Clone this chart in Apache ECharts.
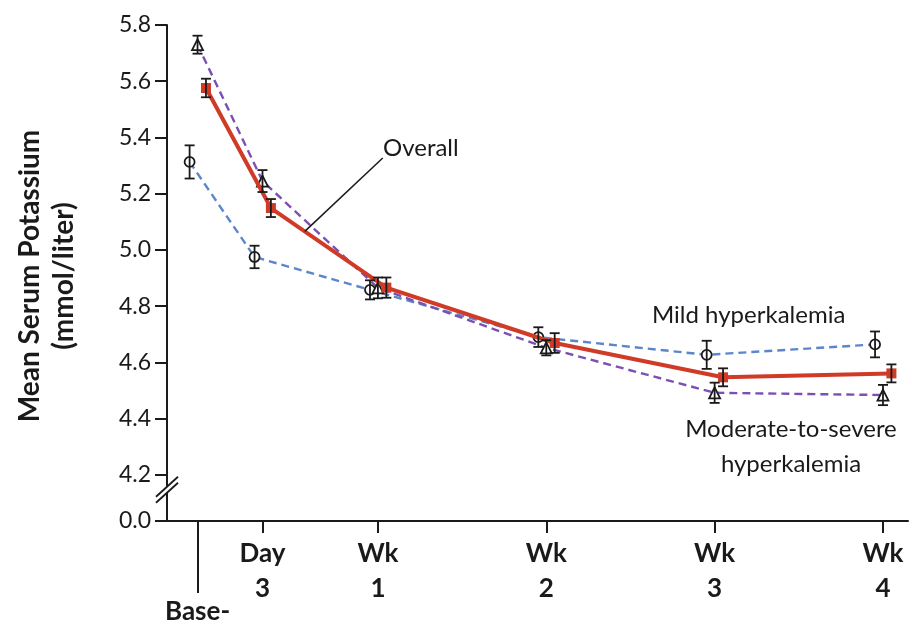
<!DOCTYPE html>
<html><head><meta charset="utf-8">
<script src="https://cdn.jsdelivr.net/npm/echarts@6/dist/echarts.min.js"></script>
<style>html,body{margin:0;padding:0;background:#fff}#c{width:912px;height:626px}</style>
</head><body><div id="c"></div>
<script>
// ---- data ----
const timeLabels = ['Base-', 'Day\n3', 'Wk\n1', 'Wk\n2', 'Wk\n3', 'Wk\n4'];
const timePos = [-0.5, 2.2, 7, 14, 21, 28];          // axis position of each time point (days, as drawn)
const yTickValues = [4.2, 4.4, 4.6, 4.8, 5.0, 5.2, 5.4, 5.6, 5.8];
const yBreakBottom = 4.036;                            // bottom of broken axis, labelled 0.0
const yBreakLabel = '0.0';

const mild = [5.313, 4.975, 4.858, 4.690, 4.627, 4.664];
const mildErr = [0.059, 0.040, 0.034, 0.035, 0.050, 0.046];
const moderate = [5.730, 5.245, 4.865, 4.652, 4.492, 4.484];
const moderateErr = [0.032, 0.039, 0.037, 0.027, 0.036, 0.036];
const overall = [5.576, 5.149, 4.866, 4.669, 4.547, 4.561];
const overallErr = [0.033, 0.032, 0.036, 0.035, 0.032, 0.032];

const jitter = { mild: -0.33, moderate: 0.0, overall: 0.35 };

// ---- build ----
const FONT = 'Lato';
const INK = '#1a1a1a';
function pts(vals, off) { return vals.map((v, i) => [timePos[i] + off, v]); }
function errPts(vals, errs, off) { return vals.map((v, i) => [timePos[i] + off, v, errs[i]]); }

function errRender(params, api) {
  const x = api.value(0), y = api.value(1), e = api.value(2);
  const top = api.coord([x, y + e]);
  const bot = api.coord([x, y - e]);
  const hw = 5;
  const st = { stroke: INK, lineWidth: 1.8 };
  return {
    type: 'group', children: [
      { type: 'line', shape: { x1: top[0], y1: top[1], x2: bot[0], y2: bot[1] }, style: st },
      { type: 'line', shape: { x1: top[0] - hw, y1: top[1], x2: top[0] + hw, y2: top[1] }, style: st },
      { type: 'line', shape: { x1: bot[0] - hw, y1: bot[1], x2: bot[0] + hw, y2: bot[1] }, style: st }
    ]
  };
}

const chart = echarts.init(document.getElementById('c'));
const option = {
  backgroundColor: '#fff',
  animation: false,
  grid: { left: 167, right: 4, top: 25, bottom: 105 },
  xAxis: [{
    type: 'value', min: -1.77, max: 29.04,
    axisLine: { show: true, onZero: false, lineStyle: { color: INK, width: 2 } },
    splitLine: { show: false },
    axisTick: { show: true, customValues: timePos.slice(1), length: 12, lineStyle: { color: INK, width: 2 } },
    axisLabel: {
      customValues: timePos.slice(1), margin: 15,
      formatter: v => { const i = timePos.indexOf(v); return i >= 0 ? timeLabels[i] : ''; },
      fontFamily: FONT, fontWeight: 'bold', fontSize: 26, color: INK, lineHeight: 35, align: 'center'
    }
  }, {
    type: 'value', min: -1.77, max: 29.04, position: 'bottom',
    axisLine: { show: false, onZero: false },
    splitLine: { show: false },
    axisTick: { show: true, customValues: [timePos[0]], length: 72, lineStyle: { color: INK, width: 2 } },
    axisLabel: {
      customValues: [timePos[0]], margin: 78,
      formatter: () => timeLabels[0],
      fontFamily: FONT, fontWeight: 'bold', fontSize: 26, lineHeight: 26, color: INK
    }
  }],
  yAxis: {
    type: 'value', min: yBreakBottom, max: 5.8,
    axisLine: { show: true, onZero: false, lineStyle: { color: INK, width: 2 } },
    splitLine: { show: false },
    axisTick: { show: true, customValues: [yBreakBottom].concat(yTickValues), length: 12, lineStyle: { color: INK, width: 2 } },
    axisLabel: {
      customValues: [yBreakBottom].concat(yTickValues), margin: 16,
      formatter: v => (v < 4.1 ? yBreakLabel : v.toFixed(1)),
      fontFamily: FONT, fontSize: 23, color: INK
    }
  },
  series: [
    {
      name: 'Mild hyperkalemia', type: 'line', data: pts(mild, jitter.mild), z: 2,
      lineStyle: { color: '#5b86cc', width: 2.4, type: [8, 5] },
      symbol: 'circle', symbolSize: 10,
      itemStyle: { color: '#fff', borderColor: INK, borderWidth: 1.8 }
    },
    {
      name: 'Moderate-to-severe hyperkalemia', type: 'line', data: pts(moderate, jitter.moderate), z: 2,
      lineStyle: { color: '#7c4fb3', width: 2.4, type: [8, 5] },
      symbol: 'triangle', symbolSize: 11,
      itemStyle: { color: '#fff', borderColor: INK, borderWidth: 1.8 }
    },
    {
      name: 'Overall', type: 'line', data: pts(overall, jitter.overall), z: 3,
      lineStyle: { color: '#cf3b26', width: 4 },
      symbol: 'rect', symbolSize: 10,
      itemStyle: { color: '#cf3b26', borderColor: '#cf3b26', borderWidth: 0 },
      markLine: {
        silent: true, symbol: ['none', 'none'], label: { show: false },
        lineStyle: { color: INK, width: 1.5, type: 'solid' },
        data: [[{ coord: [7.2, 5.327] }, { coord: [3.96, 5.066] }]]
      }
    },
    { type: 'custom', renderItem: errRender, data: errPts(mild, mildErr, jitter.mild), z: 4, encode: { x: 0, y: 1 } },
    { type: 'custom', renderItem: errRender, data: errPts(moderate, moderateErr, jitter.moderate), z: 4, encode: { x: 0, y: 1 } },
    { type: 'custom', renderItem: errRender, data: errPts(overall, overallErr, jitter.overall), z: 4, encode: { x: 0, y: 1 } }
  ]
};
chart.setOption(option);

// axis break mark and texts
const bx = chart.convertToPixel({ xAxisIndex: 0 }, -1.77);
const by = chart.convertToPixel({ yAxisIndex: 0 }, 4.147);
chart.setOption({
  graphic: [
    { type: 'polygon', z: 100, shape: { points: [[bx - 11, by + 7], [bx + 11, by - 13], [bx + 11, by - 7], [bx - 11, by + 13]] }, style: { fill: '#fff' } },
    { type: 'line', z: 101, shape: { x1: bx - 11, y1: by + 7, x2: bx + 11, y2: by - 13 }, style: { stroke: INK, lineWidth: 1.8 } },
    { type: 'line', z: 101, shape: { x1: bx - 11, y1: by + 13, x2: bx + 11, y2: by - 7 }, style: { stroke: INK, lineWidth: 1.8 } },
    { type: 'text', z: 50, x: 47, y: 276, rotation: Math.PI / 2,
      style: { text: 'Mean Serum Potassium\n(mmol/liter)', font: 'bold 28px ' + FONT, fill: INK, align: 'center', verticalAlign: 'middle', lineHeight: 34 } },
    { type: 'text', z: 50, x: 383, y: 148,
      style: { text: 'Overall', font: '24px ' + FONT, fill: INK, align: 'left', verticalAlign: 'middle' } },
    { type: 'text', z: 50, x: 652, y: 315,
      style: { text: 'Mild hyperkalemia', font: '24px ' + FONT, fill: INK, align: 'left', verticalAlign: 'middle' } },
    { type: 'text', z: 50, x: 791, y: 447,
      style: { text: 'Moderate-to-severe\nhyperkalemia', font: '24px ' + FONT, fill: INK, align: 'center', verticalAlign: 'middle', lineHeight: 35 } }
  ]
});
</script>
</body></html>
